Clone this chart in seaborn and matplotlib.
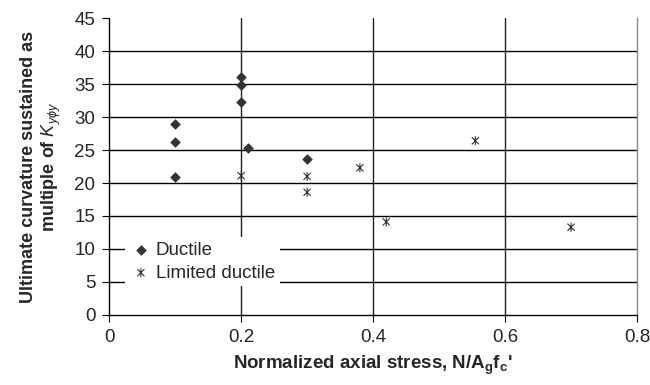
import pandas as pd
import numpy as np
import matplotlib
matplotlib.use('Agg')
import matplotlib.pyplot as plt
from matplotlib.path import Path
import seaborn as sns

# data
ductile_x = [0.1, 0.1, 0.1, 0.2, 0.2, 0.2, 0.21, 0.3]
ductile_y = [28.9, 26.2, 20.9, 36.1, 34.8, 32.3, 25.3, 23.6]
limited_x = [0.2, 0.3, 0.3, 0.38, 0.42, 0.555, 0.70]
limited_y = [21.1, 21.0, 18.6, 22.3, 14.1, 26.4, 13.3]
x_ticks = [0, 0.2, 0.4, 0.6, 0.8]
y_ticks = [0, 5, 10, 15, 20, 25, 30, 35, 40, 45]

ductile = pd.DataFrame({'x': ductile_x, 'y': ductile_y})
limited = pd.DataFrame({'x': limited_x, 'y': limited_y})

# excel-style asterisk: an X with a vertical bar
star = Path([(0, -1), (0, 1), (-0.8, -0.8), (0.8, 0.8), (-0.8, 0.8), (0.8, -0.8)],
            [Path.MOVETO, Path.LINETO] * 3)

sns.set_style('white')
plt.rcParams['font.family'] = ['Liberation Sans', 'DejaVu Sans']
plt.rcParams['mathtext.fontset'] = 'custom'
plt.rcParams['mathtext.rm'] = 'Liberation Sans'
plt.rcParams['mathtext.it'] = 'Liberation Sans:italic'
plt.rcParams['mathtext.bf'] = 'Liberation Sans:bold'

fig = plt.figure(figsize=(6.5, 3.85), dpi=100)
ax = fig.add_axes([0.168, 0.182, 0.812, 0.771])

# grid lines
for v in y_ticks[1:-1]:
    ax.axhline(v, color='black', lw=1, zorder=0)
for v in x_ticks[1:-1]:
    ax.axvline(v, color='#222222', lw=1, zorder=0)

sns.scatterplot(data=ductile, x='x', y='y', marker='D', color='#333333',
                s=24, linewidth=0.5, edgecolor='#333333', ax=ax, zorder=3,
                label='Ductile')
sns.scatterplot(data=limited, x='x', y='y', marker=star, facecolor='none',
                edgecolor='#333333', s=42, linewidth=0.8, ax=ax, zorder=3,
                label='Limited ductile')

ax.set_xlim(0, 0.8)
ax.set_ylim(0, 45)
ax.set_xticks(x_ticks)
ax.set_xticklabels(['0', '0.2', '0.4', '0.6', '0.8'])
ax.set_yticks(y_ticks)
ax.tick_params(axis='both', labelsize=13.5, length=5, width=0.8, color='black',
               direction='out', bottom=True, left=True, pad=5)

for s in ['left', 'bottom']:
    ax.spines[s].set_color('black')
    ax.spines[s].set_linewidth(1)
ax.spines['top'].set_visible(False)
ax.spines['right'].set_color('#888888')
ax.spines['right'].set_linewidth(1)

ax.set_xlabel("Normalized axial stress, N/A$_\\mathbf{g}$f$_\\mathbf{c}$'",
              fontsize=13.5, fontweight='bold', labelpad=6)
ax.set_ylabel('Ultimate curvature sustained as\nmultiple of $K_{y\\phi y}$',
              fontsize=13, fontweight='bold', labelpad=8)

leg = ax.legend(loc='lower left', bbox_to_anchor=(0.012, 0.065), fontsize=13.5,
                frameon=True, fancybox=False, edgecolor='white',
                facecolor='white', framealpha=1, handletextpad=0.2,
                borderpad=0.25, labelspacing=0.3, handlelength=1.2)
leg.get_frame().set_linewidth(0)

fig.savefig('out.png', dpi=100)
